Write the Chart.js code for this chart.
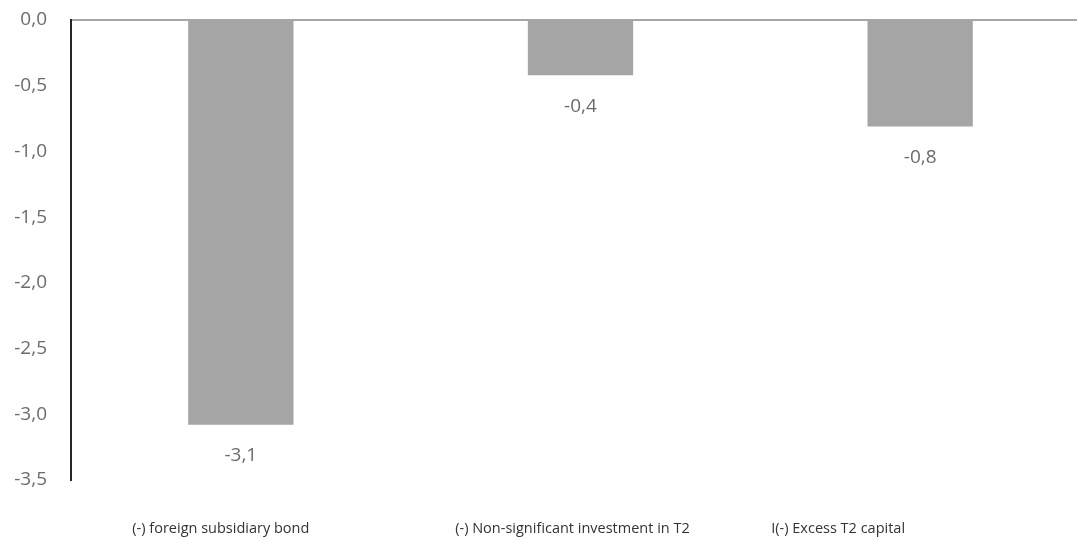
<!DOCTYPE html>
<html>
<head>
<meta charset="utf-8">
<script src="https://cdn.jsdelivr.net/npm/chart.js@4/dist/chart.umd.min.js"></script>
<style>
  html, body { margin: 0; padding: 0; background: #fff; overflow: hidden; }
  #wrap { width: 1077px; height: 540px; overflow: hidden; }
</style>
</head>
<body>
<div id="wrap"><canvas id="c" width="1090" height="540"></canvas></div>
<script>
// data
const categories = ["(-) foreign subsidiary bond", "(-) Non-significant investment in T2", "I(-) Excess T2 capital"]
const values = [-3.08, -0.42, -0.81]
const yMin = -3.5
const yMax = 0
const yStep = 0.5

const fmt = (v) => v.toFixed(1).replace(".", ",")

// labels under bars + category labels (these sit off-centre in the original)
const labelsPlugin = {
  id: "labels",
  afterDraw(chart, args, opts) {
    const ctx = chart.ctx
    const meta = chart.getDatasetMeta(0)
    ctx.save()
    ctx.textAlign = "center"
    ctx.textBaseline = "middle"
    meta.data.forEach((bar, i) => {
      ctx.fillStyle = "#6b6b6b"
      ctx.font = "19px 'Open Sans'"
      ctx.fillText(fmt(values[i]), bar.x, bar.y + 31)
      ctx.fillStyle = "#333"
      ctx.font = "14.5px 'Open Sans'"
      ctx.fillText(categories[i], bar.x + opts.shift[i], 529)
    })
    ctx.restore()
  },
}

new Chart(document.getElementById("c"), {
  type: "bar",
  data: {
    labels: categories,
    datasets: [{
      data: values,
      backgroundColor: "#a5a5a5",
      borderWidth: 0,
      categoryPercentage: 1,
      barPercentage: 0.31,
    }],
  },
  options: {
    responsive: false,
    devicePixelRatio: 1,
    animation: false,
    layout: { padding: { top: 20, bottom: 60, right: 0, left: 0 } },
    plugins: {
      legend: { display: false },
      tooltip: { enabled: false },
      labels: { shift: [-20, -8, -82] },
    },
    scales: {
      x: { display: false },
      y: {
        min: yMin,
        max: yMax,
        afterFit: (s) => {
          s.width = 71
          s.paddingTop = 0
          s.paddingBottom = 0
        },
        ticks: {
          stepSize: yStep,
          padding: 24,
          color: "#6b6b6b",
          font: { family: "'Open Sans'", size: 19 },
          callback: (v) => fmt(v),
        },
        grid: {
          drawTicks: false,
          lineWidth: 2,
          color: (c) => (c.tick && c.tick.value === 0 ? "#a6a6a6" : "transparent"),
        },
        border: { color: "#262626", width: 2 },
      },
    },
  },
  plugins: [labelsPlugin],
})
</script>
</body>
</html>
